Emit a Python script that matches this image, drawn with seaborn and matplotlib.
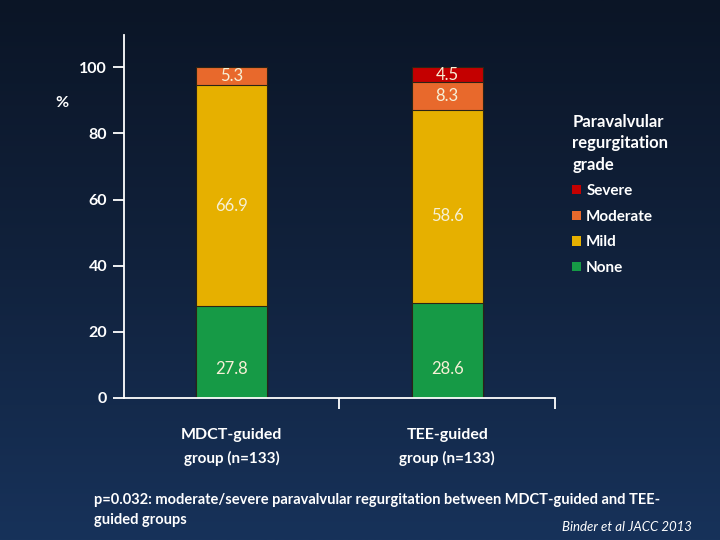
import numpy as np
import pandas as pd
import matplotlib
matplotlib.use("Agg")
import matplotlib.pyplot as plt
import seaborn as sns
from matplotlib.patches import Patch

# data (percent of patients)
groups = ["MDCT-guided\ngroup (n=133)", "TEE-guided\ngroup (n=133)"]
grades = ["None", "Mild", "Moderate", "Severe"]
none_pct = [27.8, 28.6]
mild_pct = [66.9, 58.6]
moderate_pct = [5.3, 8.3]
severe_pct = [0.0, 4.5]
grade_colors = {"None": "#169a46", "Mild": "#e6b000",
                "Moderate": "#e8692c", "Severe": "#c40000"}
# where in each segment the value label sits (fraction of height)
label_frac = {"None": 0.31, "Mild": 0.45, "Moderate": 0.5, "Severe": 0.5}

sns.set_theme(style="white")
plt.rcParams["font.family"] = ["Lato", "DejaVu Sans"]

df = pd.DataFrame({"group": groups, "None": none_pct, "Mild": mild_pct,
                   "Moderate": moderate_pct, "Severe": severe_pct})
cum = df[grades].cumsum(axis=1)

fig = plt.figure(figsize=(7.2, 5.4), dpi=100)

# gradient background like the slide
bg = fig.add_axes([0, 0, 1, 1], zorder=-10)
grad = np.linspace(0, 1, 256).reshape(-1, 1)
cmap = matplotlib.colors.LinearSegmentedColormap.from_list(
    "bg", ["#0b1526", "#11223d", "#17325a"])
bg.imshow(grad, aspect="auto", cmap=cmap, extent=[0, 1, 0, 1])
bg.axis("off")

ax = fig.add_axes([0.172, 0.263, 0.599, 0.672])
ax.patch.set_alpha(0)

# stacked bars: draw cumulative tops from the top grade down
for g in reversed(grades):
    sns.barplot(data=cum.assign(group=groups), x="group", y=g, ax=ax,
                color=grade_colors[g], width=0.33, edgecolor="#2b2416",
                linewidth=0.8, saturation=1, zorder=2)

for i in range(len(groups)):
    bottom = 0
    for g in grades:
        h = df.loc[i, g]
        if h > 0:
            ax.text(i, bottom + h * label_frac[g], f"{h:.1f}", ha="center",
                    va="center", color="#f6f0d6", fontsize=12, zorder=5)
        bottom += h

ax.set_xlim(-0.5, 1.5)
ax.set_ylim(0, 109.7)
ax.set_yticks([0, 20, 40, 60, 80, 100])
ax.set_yticklabels(["0", "20", "40", "60", "80", "100"],
                   fontsize=11.5, fontweight="bold", color="white")
ax.set_xticks([0.5, 1.5])
ax.set_xticklabels([])
ax.tick_params(axis="y", direction="out", length=8, width=1.3,
               color="white", left=True, pad=4)
ax.tick_params(axis="x", direction="out", length=8, width=1.3,
               color="white", bottom=True)
for s in ["top", "right"]:
    ax.spines[s].set_visible(False)
for s in ["left", "bottom"]:
    ax.spines[s].set_color("white")
    ax.spines[s].set_linewidth(1.3)
ax.set_xlabel("")
ax.set_ylabel("")

for i, name in enumerate(groups):
    top, bottom_line = name.split("\n")
    ax.text(i, -11.2, top, ha="center", va="center", color="white",
            fontsize=11.5, fontweight="bold")
    ax.text(i, -18.3, bottom_line, ha="center", va="center", color="white",
            fontsize=11, fontweight="bold")

fig.text(62 / 720, 1 - 103 / 540, "%", ha="center", va="center",
         color="white", fontsize=11.5, fontweight="bold")

handles = [Patch(facecolor=grade_colors[g], edgecolor="none", label=g)
           for g in reversed(grades)]
leg = fig.legend(handles=handles, title="Paravalvular\nregurgitation\ngrade",
                 loc="upper left", bbox_to_anchor=(0.776, 0.815),
                 frameon=False, handlelength=0.55, handleheight=0.55,
                 handletextpad=0.35, labelspacing=0.76,
                 prop={"size": 11, "weight": "bold"},
                 title_fontproperties={"size": 12, "weight": "bold"})
leg._legend_box.align = "left"
leg.get_title().set_color("white")
leg.get_title().set_linespacing(1.42)
for t in leg.get_texts():
    t.set_color("white")

fig.text(94 / 720, 1 - 500 / 540,
         "p=0.032: moderate/severe paravalvular regurgitation between MDCT-guided and TEE-",
         ha="left", va="center", color="white", fontsize=10.5, fontweight="bold")
fig.text(94 / 720, 1 - 520 / 540, "guided groups",
         ha="left", va="center", color="white", fontsize=10.5, fontweight="bold")
fig.text(692 / 720, 1 - 527 / 540, "Binder et al JACC 2013", ha="right",
         va="center", color="white", fontsize=9.5, style="italic")

fig.savefig("out.png", dpi=100)
